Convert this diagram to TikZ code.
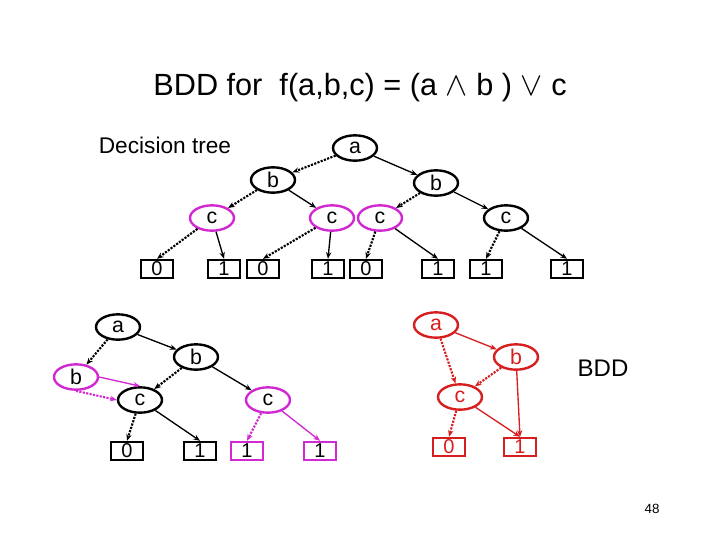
\documentclass[tikz,border=0pt]{standalone}
\usepackage{fontspec}
\setmainfont{Liberation Sans}
\usetikzlibrary{arrows.meta,shapes.geometric}
\definecolor{mag}{RGB}{210,40,210}
\definecolor{rd}{RGB}{215,30,30}
\begin{document}
\begin{tikzpicture}[x=0.75pt,y=-0.75pt,
  v/.style={draw,ellipse,line width=1.8pt,minimum width=33pt,minimum height=19pt,inner sep=0pt,font=\fontsize{16}{16}\selectfont},
  lf/.style={draw,rectangle,line width=1.3pt,minimum width=24pt,minimum height=14pt,inner sep=0pt,font=\fontsize{15}{15}\selectfont},
  hi/.style={-{Stealth[length=5pt,width=4pt]},line width=1pt},
  lo/.style={-{Stealth[length=5pt,width=4pt]},line width=1.6pt,densely dotted}]
\useasboundingbox (0,0) rectangle (720,540);
\node[font=\fontsize{23}{23}\selectfont] (title) at (360,88) {BDD for\ \ f(a,b,c) = (a $\wedge$ b ) $\vee$ c};
\node[font=\fontsize{17}{17}\selectfont] (dt) at (165,145) {Decision tree};
\node[font=\fontsize{18}{18}\selectfont] (bdd) at (603,368) {BDD};
\node[font=\fontsize{10}{10}\selectfont] (pg) at (652,509) {48};
% top tree
\node[v] (a) at (355,148) {a};
\node[v] (b1) at (273,180) {b};
\node[v] (b2) at (436,183) {b};
\node[v,draw=mag] (c1) at (212,218) {c};
\node[v,draw=mag] (c2) at (332,218) {c};
\node[v,draw=mag] (c3) at (380,218) {c};
\node[v] (c4) at (506,218) {c};
\foreach \n/\x/\t in {l1/157/0,l2/224/1,l3/263/0,l4/328/1,l5/366/0,l6/438/1,l7/486/1,l8/567/1}
  \node[lf] (\n) at (\x,269) {\t};
\draw[lo] (a) -- (b1); \draw[hi] (a) -- (b2);
\draw[lo] (b1) -- (c1); \draw[hi] (b1) -- (c2);
\draw[lo] (b2) -- (c3); \draw[hi] (b2) -- (c4);
\draw[lo] (c1) -- (l1.north); \draw[hi] (c1) -- (l2.north);
\draw[lo] (c2) -- (l3.north); \draw[hi] (c2) -- (l4.north);
\draw[lo] (c3) -- (l5.north); \draw[hi] (c3) -- (l6.north);
\draw[lo] (c4) -- (l7.north); \draw[hi] (c4) -- (l8.north);
% bottom left
\node[v] (pa) at (118,327) {a};
\node[v,draw=mag] (pb1) at (76,377) {b};
\node[v] (pb2) at (196,357) {b};
\node[v] (pc1) at (140,400) {c};
\node[v,draw=mag] (pc2) at (268,400) {c};
\node[lf] (p0) at (127,451) {0};
\node[lf] (p1) at (200,451) {1};
\node[lf,draw=mag] (p2) at (247,451) {1};
\node[lf,draw=mag] (p3) at (320,451) {1};
\draw[lo] (pa) -- (pb1); \draw[hi] (pa) -- (pb2);
\draw[hi,mag] (pb1.east) -- (pc1.north);
\draw[lo,mag] (pb1.south) -- (pc1.west);
\draw[lo] (pb2) -- (pc1); \draw[hi] (pb2) -- (pc2);
\draw[lo] (pc1) -- (p0.north); \draw[hi] (pc1) -- (p1.north);
\draw[lo,mag] (pc2) -- (p2.north); \draw[hi,mag] (pc2) -- (p3.north);
% BDD
\begin{scope}[rd]
\node[v] (ra) at (436,325) {a};
\node[v] (rb) at (516,357) {b};
\node[v] (rc) at (460,397) {c};
\node[lf] (r0) at (449,447) {0};
\node[lf] (r1) at (520,447) {1};
\draw[lo] (ra) -- (rc); \draw[hi] (ra) -- (rb);
\draw[lo] (rb) -- (rc); \draw[hi] (rb) -- (r1.north);
\draw[lo] (rc) -- (r0.north); \draw[hi] (rc) -- (r1.north);
\end{scope}
\end{tikzpicture}
\end{document}
